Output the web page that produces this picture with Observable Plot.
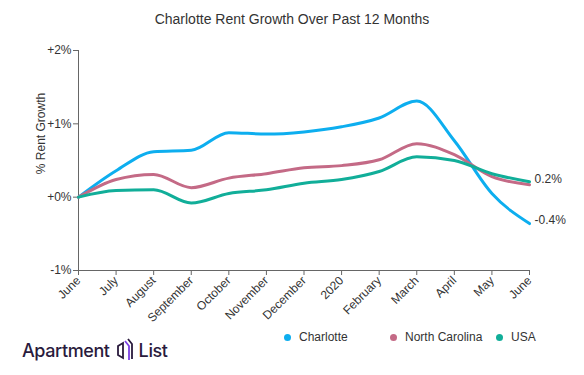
<!DOCTYPE html>
<html><head><meta charset="utf-8">
<script src="https://cdn.jsdelivr.net/npm/d3@7"></script>
<script src="https://cdn.jsdelivr.net/npm/@observablehq/plot@0.6"></script>
<style>
body{margin:0;background:#fff;font-family:"Liberation Sans",Arial,sans-serif;}
#wrap{position:relative;width:584px;height:375px;overflow:hidden;}
#title{position:absolute;top:11px;left:0;width:584px;text-align:center;font-size:14px;color:#333;}
#chart{position:absolute;top:40px;left:0;}
#chart svg text{font-size:12px;}
.leg{position:absolute;top:330px;font-size:12px;color:#333;display:flex;align-items:center;white-space:nowrap;}
.leg span.d{display:inline-block;width:7px;height:7px;border-radius:50%;margin-right:8px;}
#logo{position:absolute;left:22px;top:338px;display:flex;align-items:center;font-family:Inter,"Noto Sans",sans-serif;font-weight:500;font-size:18px;color:#2a1b3d;letter-spacing:-0.4px;}
</style>
</head><body>
<div id="wrap">
  <div id="title">Charlotte Rent Growth Over Past 12 Months</div>
  <div id="chart"></div>
  <div id="legend"></div>
  <div id="logo">Apartment<svg width="22" height="24" viewBox="0 0 22 24" style="margin:0 3px 0 4px"><path d="M4 8 L9 5 L9 20 L4 17 Z" fill="none" stroke="#2a1b3d" stroke-width="1.8"/><path d="M11 3 L15 8 L15 22" fill="none" stroke="#7b3fe4" stroke-width="1.8"/><path d="M14 1 L18 6 L18 21" fill="none" stroke="#2a1b3d" stroke-width="1.8"/></svg>List</div>
</div>
<script>
const months = ["June","July","August","September","October","November","December","2020","February","March","April","May","June"];
const seriesNames = ["Charlotte","North Carolina","USA"];
const seriesColors = ["#0DAEEF","#C46A86","#11AE99"];
const charlotte = [0, 0.36, 0.62, 0.64, 0.88, 0.86, 0.89, 0.96, 1.08, 1.31, 0.77, 0.05, -0.36];
const northCarolina = [0, 0.24, 0.31, 0.13, 0.26, 0.32, 0.40, 0.43, 0.51, 0.73, 0.58, 0.28, 0.17];
const usa = [0, 0.09, 0.10, -0.08, 0.05, 0.10, 0.19, 0.24, 0.35, 0.55, 0.50, 0.32, 0.21];
const yTicks = [-1, 0, 1, 2];
const endLabelSeries = ["Charlotte","USA"];

const values = {"Charlotte": charlotte, "North Carolina": northCarolina, "USA": usa};
const rows = seriesNames.flatMap(s => values[s].map((v, i) => ({series: s, i, v})));
const ends = endLabelSeries.map(s => ({series: s, i: months.length - 1, v: values[s][months.length - 1]}));
const fmtEnd = v => (Math.round(v * 10) / 10).toFixed(1) + "%";

const chart = Plot.plot({
  width: 584, height: 290,
  marginTop: 10, marginLeft: 78, marginRight: 55, marginBottom: 60,
  style: {fontFamily: "'Liberation Sans', Arial, sans-serif", fontSize: "12px", color: "#333", background: "transparent"},
  x: {domain: [0, months.length - 1]},
  y: {domain: [-1, 2]},
  color: {domain: seriesNames, range: seriesColors},
  marks: [
    Plot.ruleX([0], {stroke: "#666", strokeWidth: 1}),
    Plot.ruleY([-1], {stroke: "#666", strokeWidth: 1}),
    Plot.axisY({ticks: yTicks, tickFormat: d => (d >= 0 ? "+" : "-") + Math.abs(d) + "%", tickSize: 5, tickPadding: 2, label: null, stroke: "#666", fontSize: 12}),
    Plot.axisX({ticks: d3.range(months.length), tickFormat: i => months[i], tickRotate: -45, tickSize: 5, tickPadding: 3, label: null, stroke: "#666", fontSize: 12}),
    Plot.text(["% Rent Growth"], {frameAnchor: "left", textAnchor: "middle", dx: -37, dy: -27, rotate: -90, fontSize: 13, fill: "#333"}),
    Plot.line(rows, {x: "i", y: "v", z: "series", stroke: "series", curve: "monotone-x", strokeWidth: 3}),
    Plot.text(ends, {x: "i", y: "v", text: d => fmtEnd(d.v), textAnchor: "start", dx: 5, dy: -3, fontSize: 12, fill: "#333"})
  ]
});
document.getElementById("chart").appendChild(chart);

const legendLeft = [284, 390, 496];
const legend = document.getElementById("legend");
seriesNames.forEach((s, k) => {
  const el = document.createElement("div");
  el.className = "leg";
  el.style.left = legendLeft[k] + "px";
  el.innerHTML = `<span class="d" style="background:${seriesColors[k]}"></span>${s}`;
  legend.appendChild(el);
});
</script>
</body></html>
